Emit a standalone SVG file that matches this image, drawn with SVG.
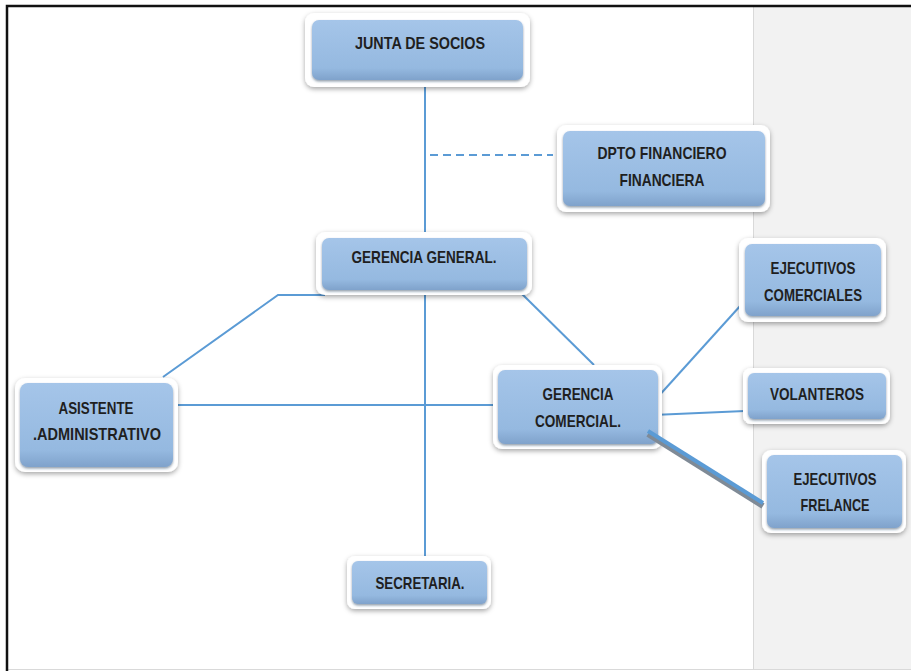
<svg xmlns="http://www.w3.org/2000/svg" width="911" height="671" viewBox="0 0 911 671">
<defs>
<linearGradient id="g" x1="0" y1="0" x2="0" y2="1">
<stop offset="0" stop-color="#a5c5e9"/>
<stop offset="0.8" stop-color="#95b9e0"/>
<stop offset="1" stop-color="#7fa2cb"/>
</linearGradient>
<filter id="sh" x="-10%" y="-10%" width="120%" height="130%">
<feDropShadow dx="0" dy="2" stdDeviation="2.5" flood-color="#000" flood-opacity="0.35"/>
</filter>
<filter id="sh2" x="-10%" y="-10%" width="120%" height="130%">
<feDropShadow dx="0" dy="1.5" stdDeviation="1.2" flood-color="#203a5a" flood-opacity="0.5"/>
</filter>
</defs>
<style>
.outer{fill:#fff;filter:url(#sh)}
.inner{fill:url(#g);filter:url(#sh2)}
.t{font-family:"Liberation Sans",Arial,sans-serif;font-weight:bold;font-size:17px;fill:#1f1f1f;text-anchor:middle;dominant-baseline:central}
.c{stroke:#5b9bd5;stroke-width:2;fill:none}
</style>
<rect x="0" y="0" width="911" height="671" fill="#fff"/>
<rect x="753" y="6" width="158" height="663" fill="#f2f2f2"/>
<line x1="753.5" y1="6" x2="753.5" y2="669" stroke="#d9d9d9" stroke-width="1"/>
<line x1="6" y1="669.5" x2="911" y2="669.5" stroke="#d9d9d9" stroke-width="1"/>
<path d="M7,671 V6 H911" fill="none" stroke="#111" stroke-width="2.5"/>

<g id="connectors">
<line class="c" x1="425" y1="87" x2="425" y2="238"/>
<line class="c" x1="430" y1="155" x2="553" y2="155" stroke-dasharray="8,5"/>
<line class="c" x1="425" y1="290" x2="425" y2="561"/>
<polyline class="c" points="163,377 278,295 325,295"/>
<line class="c" x1="520" y1="292" x2="594" y2="365"/>
<line class="c" x1="178" y1="405" x2="493" y2="405"/>
<line class="c" x1="656" y1="399" x2="741" y2="305"/>
<line class="c" x1="653" y1="415" x2="745" y2="411"/>
<line x1="746" y1="417" x2="746" y2="422" stroke="#222" stroke-width="1.5"/>
</g>

<g id="junta">
<rect class="outer" x="305" y="13" width="225" height="74" rx="9"/>
<rect class="inner" x="312" y="20" width="211" height="60" rx="7"/>
<text class="t" x="420" y="43" textLength="130" lengthAdjust="spacingAndGlyphs">JUNTA DE SOCIOS</text>
</g>

<g id="dpto">
<rect class="outer" x="557" y="125" width="213" height="87" rx="9"/>
<rect class="inner" x="563" y="131" width="202" height="75" rx="7"/>
<text class="t" x="662" y="153" textLength="129" lengthAdjust="spacingAndGlyphs">DPTO FINANCIERO</text>
<text class="t" x="662" y="180" textLength="85" lengthAdjust="spacingAndGlyphs">FINANCIERA</text>
</g>

<g id="gerencia-general">
<rect class="outer" x="316" y="232" width="216" height="63" rx="9"/>
<rect class="inner" x="322" y="238" width="205" height="52" rx="7"/>
<text class="t" x="424" y="257" textLength="145" lengthAdjust="spacingAndGlyphs">GERENCIA GENERAL.</text>
</g>

<g id="ejecutivos-comerciales">
<rect class="outer" x="739" y="238" width="147" height="84" rx="9"/>
<rect class="inner" x="745" y="244" width="136" height="72" rx="7"/>
<text class="t" x="813" y="268" textLength="85" lengthAdjust="spacingAndGlyphs">EJECUTIVOS</text>
<text class="t" x="813" y="295" textLength="98" lengthAdjust="spacingAndGlyphs">COMERCIALES</text>
</g>

<g id="gerencia-comercial">
<rect class="outer" x="493" y="365" width="169" height="84" rx="9"/>
<rect class="inner" x="498" y="370" width="160" height="74" rx="7"/>
<text class="t" x="578" y="394" textLength="71" lengthAdjust="spacingAndGlyphs">GERENCIA</text>
<text class="t" x="578" y="421" textLength="86" lengthAdjust="spacingAndGlyphs">COMERCIAL.</text>
</g>

<g id="volanteros">
<rect class="outer" x="743" y="368" width="147" height="56" rx="8"/>
<rect class="inner" x="748" y="373" width="138" height="46" rx="6"/>
<text class="t" x="817" y="394" textLength="94" lengthAdjust="spacingAndGlyphs">VOLANTEROS</text>
</g>

<g id="ejecutivos-frelance">
<rect class="outer" x="762" y="450" width="144" height="83" rx="9"/>
<rect class="inner" x="767" y="455" width="135" height="73" rx="7"/>
<text class="t" x="835" y="479" textLength="83" lengthAdjust="spacingAndGlyphs">EJECUTIVOS</text>
<text class="t" x="835" y="505" textLength="69" lengthAdjust="spacingAndGlyphs">FRELANCE</text>
</g>

<g id="asistente">
<rect class="outer" x="15" y="378" width="163" height="94" rx="10"/>
<rect class="inner" x="20" y="383" width="153" height="84" rx="8"/>
<text class="t" x="96" y="408" textLength="75" lengthAdjust="spacingAndGlyphs">ASISTENTE</text>
<text class="t" x="97" y="434" textLength="128" lengthAdjust="spacingAndGlyphs">.ADMINISTRATIVO</text>
</g>

<g id="secretaria">
<rect class="outer" x="347" y="556" width="144" height="53" rx="8"/>
<rect class="inner" x="352" y="561" width="135" height="43" rx="6"/>
<text class="t" x="420" y="583" textLength="89" lengthAdjust="spacingAndGlyphs">SECRETARIA.</text>
</g>

<g id="connector-frelance">
<line x1="648" y1="434" x2="763" y2="506" stroke="#7f8a96" stroke-width="6"/>
<line x1="648" y1="431" x2="763" y2="503" stroke="#5b9bd5" stroke-width="4"/>
</g>
</svg>
